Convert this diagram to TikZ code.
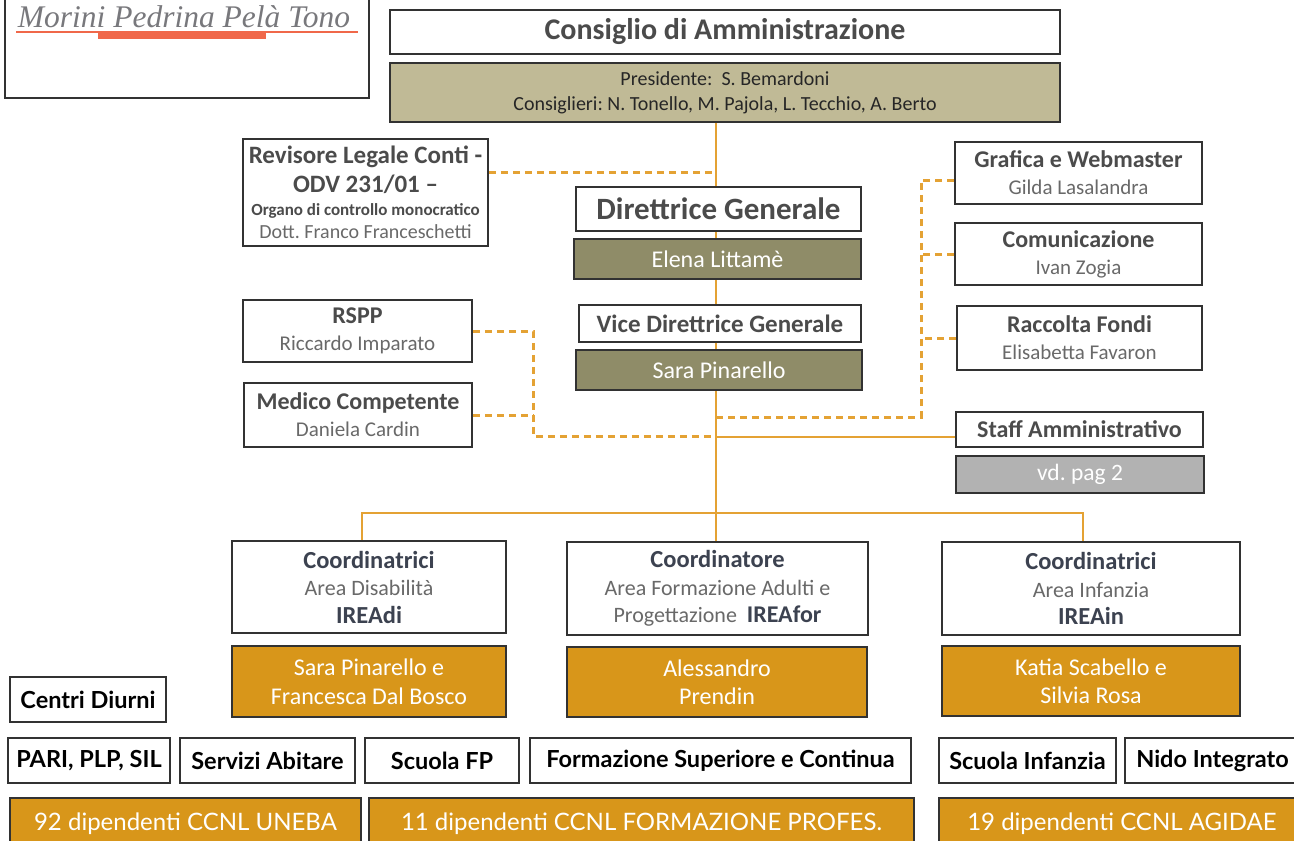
\documentclass[tikz,border=0pt]{standalone}
\usepackage{fontspec}
\setmainfont{Carlito}
\newfontfamily\avfont{Lato}
\newfontfamily\titlefont{Liberation Serif}
\usetikzlibrary{positioning}
\pgfdeclarelayer{bg}
\pgfsetlayers{bg,main}
\frenchspacing

\definecolor{boxline}{RGB}{50,50,50}
\definecolor{headgray}{RGB}{75,75,75}
\definecolor{namegray}{RGB}{105,105,105}
\definecolor{coordgray}{RGB}{60,66,80}
\definecolor{titlegray}{RGB}{120,120,124}
\definecolor{salmon}{RGB}{240,104,74}
\definecolor{olivelight}{RGB}{192,186,150}
\definecolor{olivedark}{RGB}{143,140,104}
\definecolor{ochre}{RGB}{216,150,26}
\definecolor{linecol}{RGB}{228,162,52}
\definecolor{notegray}{RGB}{178,178,178}

\newcommand{\nm}[1]{{\color{namegray}#1}}
\newcommand{\hd}[1]{{\bfseries\fontsize{24}{27}\selectfont #1}}

\begin{document}
\begin{tikzpicture}[x=1pt,y=-1pt,
    box/.style={draw=boxline,line width=1.6pt,fill=white,inner sep=0pt,align=center,text=headgray},
    personbox/.style={box,font=\fontsize{21}{27}\selectfont},
    olivebox/.style={box,fill=olivedark,text=white,font=\fontsize{24}{28}\selectfont},
    ochrebox/.style={box,fill=ochre,text=white,font=\fontsize{24}{28.5}\selectfont},
    areabox/.style={box,text=coordgray,font=\fontsize{22}{27.5}\selectfont},
    unitbox/.style={draw=boxline,line width=1.2pt,fill=white,inner sep=0pt,text=black,
        minimum height=45,font=\avfont\bfseries\fontsize{23.5}{27}\selectfont},
    staffbox/.style={draw=boxline,line width=1.2pt,fill=ochre,inner sep=0pt,text=white,
        minimum height=52,font=\avfont\fontsize{24}{27}\selectfont},
    orgline/.style={draw=linecol,line width=1.8pt},
    dashline/.style={draw=linecol,line width=3pt,dash pattern=on 7pt off 5pt}]
\useasboundingbox (0,0) rectangle (1294,841);

% intestazione
\node[draw=boxline,line width=1.6pt,minimum width=364,minimum height=103,inner sep=0pt] (frame) at (187,46.5) {};
\node[anchor=base,inner sep=0pt,text=titlegray,font=\titlefont\itshape\fontsize{31.5}{32}\selectfont] (title) at (184,27) {Morini Pedrina Pelà Tono};
\draw[salmon,line width=1.5pt] (16,32) -- (358,32);
\fill[salmon] (98,32) rectangle (266,39);

% vertice
\node[box,minimum width=670,minimum height=44,font=\bfseries\fontsize{30}{32}\selectfont] (cda) at (725,32) {Consiglio di Amministrazione};
\node[box,fill=olivelight,text=black!85,minimum width=670,minimum height=59,font=\fontsize{20}{25}\selectfont] (pres) at (725,92.5)
    {Presidente:~ S. Bemardoni\\ Consiglieri: N. Tonello, M. Pajola, L. Tecchio, A. Berto};

\node[box,minimum width=245,minimum height=107,font=\fontsize{20}{24}\selectfont] (rev) at (365.5,192.5)
    {{\bfseries\fontsize{25}{24}\selectfont Revisore Legale Conti -}\\[5pt]
     {\bfseries\fontsize{25}{24}\selectfont ODV 231/01 –}\\[-1pt]
     {\bfseries\fontsize{17}{24}\selectfont Organo di controllo monocratico}\\[-1pt]
     \nm{Dott. Franco Franceschetti}};

\node[box,minimum width=285,minimum height=44,font=\bfseries\fontsize{31}{32}\selectfont] (dg) at (718.5,209) {Direttrice Generale};
\node[olivebox,minimum width=287,minimum height=40] (dgname) at (717.5,259) {Elena Littamè};
\node[box,minimum width=282,minimum height=37,font=\bfseries\fontsize{25}{28}\selectfont] (vdg) at (720,323.5) {Vice Direttrice Generale};
\node[olivebox,minimum width=286,minimum height=40] (vdgname) at (719,370) {Sara Pinarello};

\node[personbox,minimum width=229,minimum height=62] (rspp) at (357.5,331) {\hd{RSPP}\\ \nm{Riccardo Imparato}};
\node[personbox,minimum width=228,minimum height=64] (med) at (358,415) {\hd{Medico Competente}\\ \nm{Daniela Cardin}};

\node[personbox,minimum width=247,minimum height=62] (graf) at (1078.5,173) {\hd{Grafica e Webmaster}\\ \nm{Gilda Lasalandra}};
\node[personbox,minimum width=247,minimum height=62] (com) at (1078.5,254) {\hd{Comunicazione}\\ \nm{Ivan Zogia}};
\node[personbox,minimum width=245,minimum height=64] (fondi) at (1079.5,338) {\hd{Raccolta Fondi}\\ \nm{Elisabetta Favaron}};
\node[box,minimum width=247,minimum height=35,font=\bfseries\fontsize{24}{27}\selectfont] (staff) at (1079.5,429.5) {Staff Amministrativo};
\node[box,fill=notegray,text=white,minimum width=248,minimum height=37,font=\fontsize{23.5}{27}\selectfont] (staffnote) at (1080,474.5) {vd. pag 2};

% aree
\node[areabox,minimum width=274,minimum height=92] (codi) at (369,587)
    {\textbf{\fontsize{24.5}{27.5}\selectfont Coordinatrici}\\ \nm{Area Disabilità}\\ \textbf{\fontsize{24.5}{27.5}\selectfont IREAdi}};
\node[ochrebox,minimum width=274,minimum height=71] (codinames) at (369,681.5) {Sara Pinarello e\\ Francesca Dal Bosco};
\node[areabox,minimum width=301,minimum height=93] (cofor) at (717.5,588.5)
    {\textbf{\fontsize{24.5}{27.5}\selectfont Coordinatore}\\ \nm{Area Formazione Adulti e}\\ \nm{Progettazione}~ \textbf{\fontsize{24}{27.5}\selectfont IREAfor}};
\node[ochrebox,minimum width=300,minimum height=70] (cofornames) at (717,682) {Alessandro\\ Prendin};
\node[areabox,minimum width=298,minimum height=93] (coin) at (1091,588.5)
    {\textbf{\fontsize{24.5}{27.5}\selectfont Coordinatrici}\\ \nm{Area Infanzia}\\ \textbf{\fontsize{24.5}{27.5}\selectfont IREAin}};
\node[ochrebox,minimum width=298,minimum height=70] (coinnames) at (1091,681) {Katia Scabello e\\ Silvia Rosa};

% servizi
\node[unitbox,minimum width=156] (centri) at (88,699.5) {Centri Diurni};
\node[unitbox,minimum width=162] (pari) at (89,760.5) {PARI, PLP, SIL};
\node[unitbox,minimum width=175] (abitare) at (267.5,760.5) {Servizi Abitare};
\node[unitbox,minimum width=154] (scuolafp) at (442,760.5) {Scuola FP};
\node[unitbox,minimum width=381] (formsup) at (720.5,760.5) {Formazione Superiore e Continua};
\node[unitbox,minimum width=177] (scuolainf) at (1027.5,760.5) {Scuola Infanzia};
\node[unitbox,minimum width=175] (nido) at (1212.5,760.5) {Nido Integrato};

\node[staffbox,minimum width=351] (uneba) at (185.5,824) {92 dipendenti CCNL UNEBA};
\node[staffbox,minimum width=545] (profes) at (641.5,824) {11 dipendenti CCNL FORMAZIONE PROFES.};
\node[staffbox,minimum width=366] (agidae) at (1122,824) {19 dipendenti CCNL AGIDAE};

% collegamenti
\coordinate (bus) at (716,513);
\coordinate (revj) at (716,172);
\coordinate (lj) at (533,436);
\coordinate (rj) at (921,417);
\begin{pgfonlayer}{bg}
\draw[orgline] (pres.south -| bus) -- (bus);
\end{pgfonlayer}
\draw[dashline] (rev.east |- revj) -- (revj);
\draw[dashline] (rspp.east) -| (lj) -- (lj -| bus);
\draw[dashline] (med.east) -- (med.east -| lj);
\draw[dashline] ([yshift=-7pt]graf.west) -| (rj) -- (rj -| bus);
\draw[dashline] (com.west) -- (com.west -| rj);
\draw[dashline] (fondi.west) -- (fondi.west -| rj);
\draw[orgline] (bus |- lj) ++(0,1) -- ([yshift=-7.5pt]staff.west);
\draw[orgline] ([xshift=-7pt]codi.north) |- (bus) -| ([xshift=-8pt]coin.north);
\draw[orgline] (bus) -- (bus |- cofor.north);
\end{tikzpicture}
\end{document}
